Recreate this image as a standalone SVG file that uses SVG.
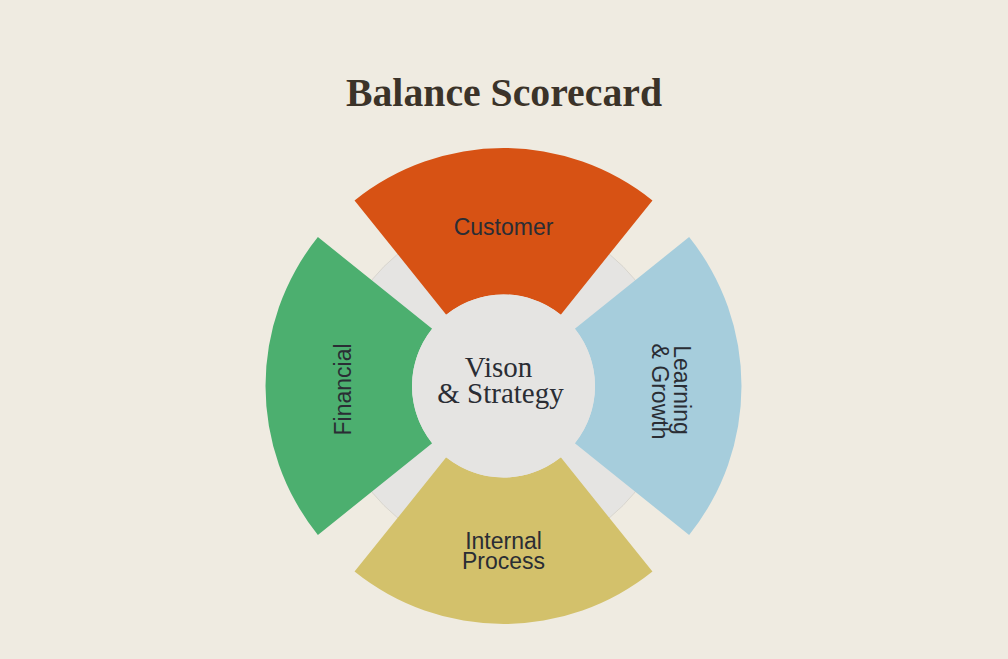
<svg xmlns="http://www.w3.org/2000/svg" width="1008" height="659" viewBox="0 0 1008 659">
  <style>
    .lbl { font-family: "Liberation Sans", Arial, sans-serif; font-size: 23px; fill: #2a2d34; text-anchor: middle; }
    .ser { font-family: "Liberation Serif", "Times New Roman", serif; fill: #2a2d34; text-anchor: middle; }
    .title { font-family: "Liberation Serif", "Times New Roman", serif; font-weight: bold; font-size: 40px; fill: #3b3329; text-anchor: middle; }
  </style>
  <rect x="0" y="0" width="1008" height="659" fill="#efebe1"/>
  <text class="title" x="504" y="106" textLength="316" lengthAdjust="spacingAndGlyphs">Balance Scorecard</text>

  <g id="ring">
    <circle cx="503.5" cy="386" r="169" fill="#e5e4e2" stroke="#d8d5ce" stroke-width="1"/>
  </g>

  <g id="customer">
    <path d="M354.54,200.38 A238,238 0 0 1 652.46,200.38 L560.77,314.64 A91.5,91.5 0 0 0 446.23,314.64 Z" fill="#d75214"/>
    <text class="lbl" x="503.5" y="235">Customer</text>
  </g>

  <g id="learning-growth">
    <path d="M689.12,237.04 A238,238 0 0 1 689.12,534.96 L574.86,443.27 A91.5,91.5 0 0 0 574.86,328.73 Z" fill="#a6cddc"/>
    <text class="lbl" transform="translate(673.5,390) rotate(90)">Learning</text>
    <text class="lbl" transform="translate(651.5,391.5) rotate(90)">&amp; Growth</text>
  </g>

  <g id="internal-process">
    <path d="M652.46,571.62 A238,238 0 0 1 354.54,571.62 L446.23,457.36 A91.5,91.5 0 0 0 560.77,457.36 Z" fill="#d3c16b"/>
    <text class="lbl" x="503.5" y="549">Internal</text>
    <text class="lbl" x="503.5" y="569">Process</text>
  </g>

  <g id="financial">
    <path d="M317.88,534.96 A238,238 0 0 1 317.88,237.04 L432.14,328.73 A91.5,91.5 0 0 0 432.14,443.27 Z" fill="#4caf6f"/>
    <text class="lbl" transform="translate(350.7,389.5) rotate(-90)">Financial</text>
  </g>

  <g id="vision-strategy">
    <circle cx="503.5" cy="386" r="91.5" fill="#e5e4e2"/>
    <text class="ser" x="498.5" y="377" font-size="29">Vison</text>
    <text class="ser" x="500.5" y="403" font-size="29">&amp; Strategy</text>
  </g>

  <g id="connectors"></g>
</svg>
